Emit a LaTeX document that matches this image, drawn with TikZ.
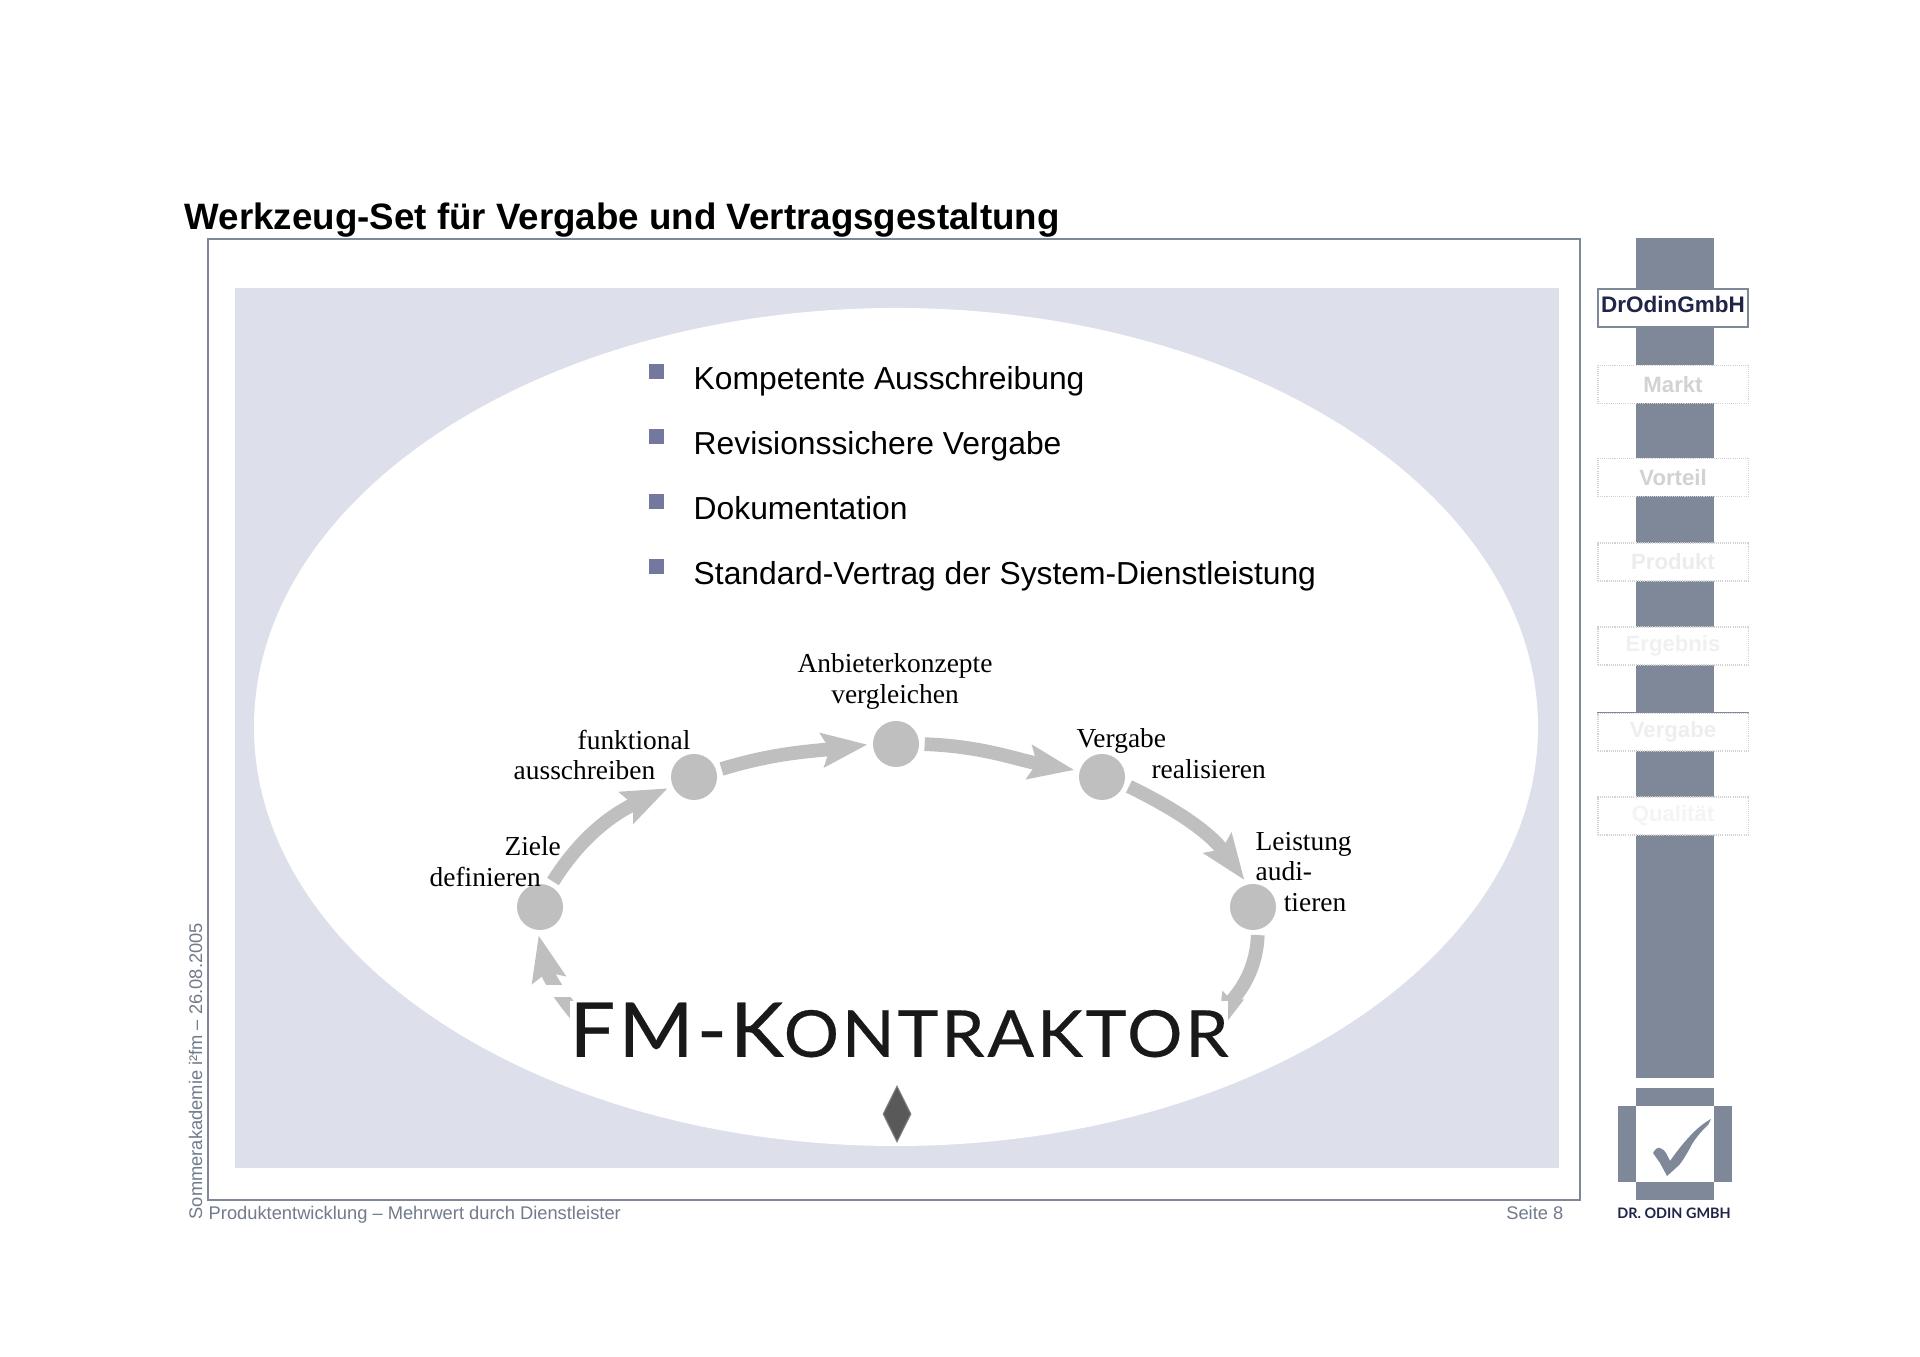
\documentclass[tikz,border=0pt]{standalone}
\usepackage{fontspec}
\setmainfont{Liberation Sans}
\newfontfamily\stationfont{Liberation Serif}
\newfontfamily\logofont[LetterSpace=4.3, FakeBold=0.4, FakeStretch=1.07]{Lato}
\newfontfamily\brandfont{Lato}
\usepackage{xcolor}
\definecolor{colBar}{HTML}{7F8898}
\definecolor{colPanel}{HTML}{DDDFEB}
\definecolor{colFlow}{HTML}{BFBFBF}
\definecolor{colBullet}{HTML}{74789E}
\definecolor{colNavy}{HTML}{1F2547}
\definecolor{colFoot}{HTML}{717B8C}
\usetikzlibrary{arrows.meta, shapes.geometric}
\tikzset{
	station/.style={circle, fill=colFlow, minimum size=0.46cm, inner sep=0pt},
	stationtext/.style={anchor=west, align=left, inner sep=0pt, font=\stationfont\fontsize{7.8}{8.8}\selectfont},
	flowline/.style={draw=colFlow, line width=3.9pt, shorten <=1.4pt, shorten >=1.4pt, -{Stealth[length=12.8pt, width=9.5pt, inset=2pt]}},
	sidebox/.style={draw=gray!35, dash pattern=on 0.3pt off 0.3pt, line width=0.3pt, fill=white, minimum width=1.5cm, minimum height=0.38cm, inner sep=0pt, font=\bfseries\fontsize{6.3}{7}\selectfont},
	bullettext/.style={anchor=base west, inner sep=0pt, font=\fontsize{9.05}{11}\selectfont},
	foottext/.style={inner sep=0pt, text=colFoot, font=\fontsize{5.21}{6}\selectfont}
}
\begin{document}
\begin{tikzpicture}
	\useasboundingbox (0,0) rectangle (19.2,13.57);
	\fill[white] (0,0) rectangle (19.2,13.57);
	\node[anchor=base west, inner sep=0pt, font=\bfseries\fontsize{10.45}{12}\selectfont] (title) at (1.84,11.27) {Werkzeug-Set für Vergabe und Vertragsgestaltung};
	\draw[colBar, line width=0.6pt] (2.08,1.57) rectangle (15.80,11.18);
	\fill[colPanel] (2.35,1.89) rectangle (15.59,10.69);
	\fill[white] (8.96,6.30) ellipse (6.42 and 4.19);

	\foreach \y/\t in {9.67/Kompetente Ausschreibung, 9.02/Revisionssichere Vergabe, 8.37/Dokumentation, 7.72/Standard-Vertrag der System-Dienstleistung}{
		\fill[colBullet] (6.49,\y+0.11) rectangle (6.64,\y+0.26);
		\node[bullettext] at (6.93,\y) {\t};
	}

	\node[station] (ziele) at (5.40,4.50) {};
	\node[station] (funktional) at (6.94,5.80) {};
	\node[station] (konzepte) at (8.96,6.13) {};
	\node[station] (vergabe) at (11.02,5.80) {};
	\node[station] (leistung) at (12.53,4.50) {};
	\coordinate (hiddenleft) at (5.95,3.22);
	\coordinate (hiddenright) at (12.13,3.12);

	\draw[flowline] (ziele.64) to[out=58, in=205] (funktional.203);
	\draw[flowline] (funktional.16) to[out=17, in=187] (konzepte.180);
	\draw[flowline] (konzepte.0) to[out=-2, in=170] (vergabe.165);
	\draw[flowline] (vergabe.-18) to[out=-26, in=126] (leistung.104);
	\draw[flowline, -{Stealth[length=12.8pt, width=5.2pt, inset=0.6pt]}] (leistung.-78) to[out=-92, in=68] (hiddenright);
	\draw[flowline] (hiddenleft) to[out=135, in=-77] (ziele.264);
	\fill[white] (5.25,3.72) rectangle (6.00,3.60);

	\node[fill=white, inner sep=0pt, minimum width=6.55cm, minimum height=0.57cm, text=black!90, font=\logofont] (logo) at (8.99,3.27) {\fontsize{21.5}{22}\selectfont FM-K\fontsize{18.4}{22}\selectfont ONTRAKTOR};
	\node[diamond, aspect=0.5, fill=black!65, draw=gray, line width=0.3pt, inner sep=0pt, minimum width=0.28cm, minimum height=0.56cm] (marker) at (8.97,2.43) {};

	\node[stationtext, align=center, anchor=center] (konzeptetext) at (8.95,6.76) {Anbieterkonzepte\\vergleichen};
	\node[stationtext] (funktionaltext) at (5.13,6.02) {\hspace*{18.2pt}funktional\\ausschreiben};
	\node[stationtext] (zieletext) at (4.29,4.95) {\hspace*{21.3pt}Ziele\\definieren};
	\node[stationtext] (vergabetext) at (10.76,6.03) {Vergabe\\\hspace*{21.3pt}realisieren};
	\node[stationtext] (leistungtext) at (12.55,4.85) {Leistung\\audi-\\\hspace*{8pt}tieren};

	\fill[colBar] (16.36,2.79) rectangle (17.14,11.19);
	\node[sidebox, solid, draw=colBar, line width=0.6pt, text=colNavy, font=\bfseries\fontsize{6.4}{7}\selectfont] (home) at (16.73,10.49) {\raisebox{2pt}{DrOdinGmbH}};
	\foreach \n/\t/\y/\c in {markt/Markt/9.725/35, vorteil/Vorteil/8.795/35, produkt/Produkt/7.95/15, ergebnis/Ergebnis/7.11/12, vergabebox/Vergabe/6.25/13, qualitaet/Qualität/5.41/9}{
		\node[sidebox, text=gray!\c] (\n) at (16.73,\y) {\t};
	}
	\draw[colBar, line width=0.4pt] (vergabebox.north west) -- (vergabebox.north east);

	\fill[colBar] (16.36,2.51) rectangle (17.14,2.69);
	\fill[colBar] (16.36,1.57) rectangle (17.14,1.75);
	\fill[colBar] (16.18,1.75) rectangle (16.36,2.51);
	\fill[colBar] (17.14,1.75) rectangle (17.32,2.51);
	\fill[colBar] (16.53,2.04) .. controls (16.55,2.08) and (16.58,2.10) .. (16.60,2.09) .. controls (16.63,2.08) and (16.65,2.06) .. (16.66,2.04) -- (16.70,1.96) .. controls (16.82,2.13) and (16.96,2.30) .. (17.11,2.38) -- (17.08,2.32) .. controls (17.00,2.25) and (16.92,2.14) .. (16.90,2.09) .. controls (16.85,2.00) and (16.80,1.92) .. (16.77,1.90) -- (16.67,1.81) -- (16.60,1.94) -- cycle;
	\node[inner sep=0pt, text=colNavy, font=\brandfont\bfseries\fontsize{4.1}{6}\selectfont] (brand) at (16.74,1.44) {DR. ODIN GMBH};

	\node[foottext, anchor=base west] (footer) at (2.08,1.37) {Produktentwicklung – Mehrwert durch Dienstleister};
	\node[foottext, anchor=base east] (page) at (15.64,1.37) {Seite 8};
	\node[foottext, anchor=base west, rotate=90] (event) at (2.02,1.37) {Sommerakademie i²fm – 26.08.2005};
\end{tikzpicture}
\end{document}
